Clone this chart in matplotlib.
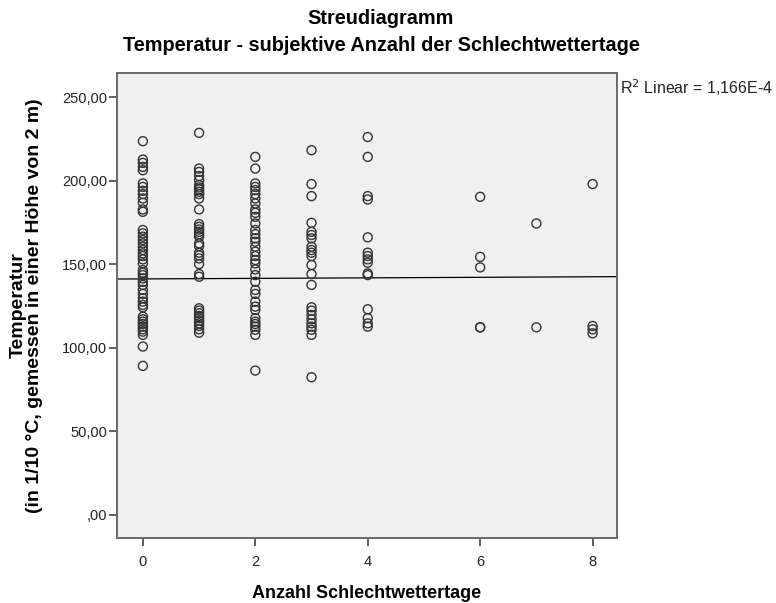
import numpy as np
import matplotlib
matplotlib.use('Agg')
import matplotlib.pyplot as plt

plt.rcParams['font.family'] = ['Liberation Sans', 'DejaVu Sans']

# Temperatur (1/10 °C) je Anzahl Schlechtwettertage
temp_0 = [223.7, 212.7, 210.7, 208.3, 206.3, 198.4, 196.3, 194.0, 192.0, 189.4,
          186.8, 182.8, 181.4, 170.5, 168.5, 166.5, 164.5, 162.5, 160.5, 158.5,
          156.5, 154.9, 152.9, 150.5, 146.5, 144.9, 143.5, 141.5, 139.5, 137.6,
          134.6, 132.2, 129.6, 127.6, 125.6, 124.2, 118.6, 117.0, 115.6, 114.2,
          112.6, 111.0, 109.6, 107.7, 100.7, 89.1]
temp_1 = [228.7, 207.3, 205.3, 202.8, 200.4, 197.4, 196.0, 194.8, 193.4, 192.0,
          189.4, 182.8, 174.0, 172.4, 170.8, 169.4, 168.0, 166.5, 162.5, 160.9,
          156.9, 155.3, 153.5, 150.1, 144.1, 142.5, 123.6, 122.2, 120.6, 119.0,
          117.7, 116.2, 114.6, 113.0, 111.0, 109.0]
temp_2 = [214.3, 207.3, 198.4, 196.3, 194.4, 192.0, 189.4, 186.4, 182.8, 180.8,
          178.4, 174.4, 170.5, 168.0, 165.5, 163.5, 160.5, 157.5, 154.9, 152.5,
          150.5, 146.9, 143.5, 139.5, 134.6, 132.2, 127.6, 124.6, 122.6, 117.7,
          115.6, 114.2, 112.6, 110.7, 107.7, 86.3]
temp_3 = [218.3, 198.0, 190.8, 174.8, 169.4, 167.5, 165.5, 160.5, 158.5, 156.9,
          154.9, 149.5, 144.1, 137.6, 124.2, 122.2, 119.6, 117.0, 114.6, 112.6,
          110.7, 107.7, 82.3]
temp_4 = [226.2, 214.3, 190.8, 188.8, 166.1, 156.9, 154.9, 152.9, 150.9, 144.5,
          143.5, 123.0, 117.7, 114.6, 112.6]
temp_6 = [190.4, 154.4, 148.1, 112.2, 112.2]
temp_7 = [174.4, 112.2]
temp_8 = [198.0, 113.0, 111.0, 108.6]

days = [0, 1, 2, 3, 4, 6, 7, 8]
temps = [temp_0, temp_1, temp_2, temp_3, temp_4, temp_6, temp_7, temp_8]

# lineare Anpassung über alle Fälle (R² = 1,166E-4)
fit_intercept = 141.2
fit_slope = 0.16

y_ticks = [0, 50, 100, 150, 200, 250]
y_ticklabels = [',00', '50,00', '100,00', '150,00', '200,00', '250,00']
x_ticks = [0, 2, 4, 6, 8]
r2_text = r'R$^2$ Linear = 1,166E-4'

x = np.concatenate([[d] * len(t) for d, t in zip(days, temps)])
y = np.concatenate(temps)

fig = plt.figure(figsize=(7.76, 6.03), dpi=100)
ax = fig.add_axes([0.1508, 0.1078, 0.644, 0.771])
ax.set_facecolor('#F0F0F0')

ax.scatter(x, y, s=42, facecolors='none', edgecolors='#333333', linewidths=1.0, zorder=3)

xlim = (-0.46, 8.43)
ax.set_xlim(xlim)
ax.set_ylim(-14, 264.5)
xs = np.array(xlim)
ax.plot(xs, fit_intercept + fit_slope * xs, color='black', lw=0.9, zorder=2)

ax.set_yticks(y_ticks)
ax.set_yticklabels(y_ticklabels)
ax.set_xticks(x_ticks)
ax.tick_params(axis='both', direction='out', length=6, width=1.2, color='#444444',
               labelsize=10.5, labelcolor='#222222')
ax.tick_params(axis='y', pad=1)
ax.tick_params(axis='x', pad=6)
for sp in ax.spines.values():
    sp.set_color('#6a6a6a')
    sp.set_linewidth(1.4)

ax.set_xlabel('Anzahl Schlechtwettertage', fontsize=13, fontweight='bold', labelpad=12)
ax.set_ylabel('Temperatur\n(in 1/10 °C, gemessen in einer Höhe von 2 m)',
              fontsize=14, fontweight='bold', linespacing=0.95)
ax.yaxis.set_label_coords(-0.148, 0.5)

fig.text(0.491, 0.970, 'Streudiagramm', ha='center', va='center', fontsize=14.3, fontweight='bold')
fig.text(0.491, 0.925, 'Temperatur - subjektive Anzahl der Schlechtwettertage',
         ha='center', va='center', fontsize=14.3, fontweight='bold')
fig.text(0.799, 0.854, r2_text, ha='left', va='center', fontsize=11.5, color='#222222')

fig.savefig('out.png', dpi=100)
